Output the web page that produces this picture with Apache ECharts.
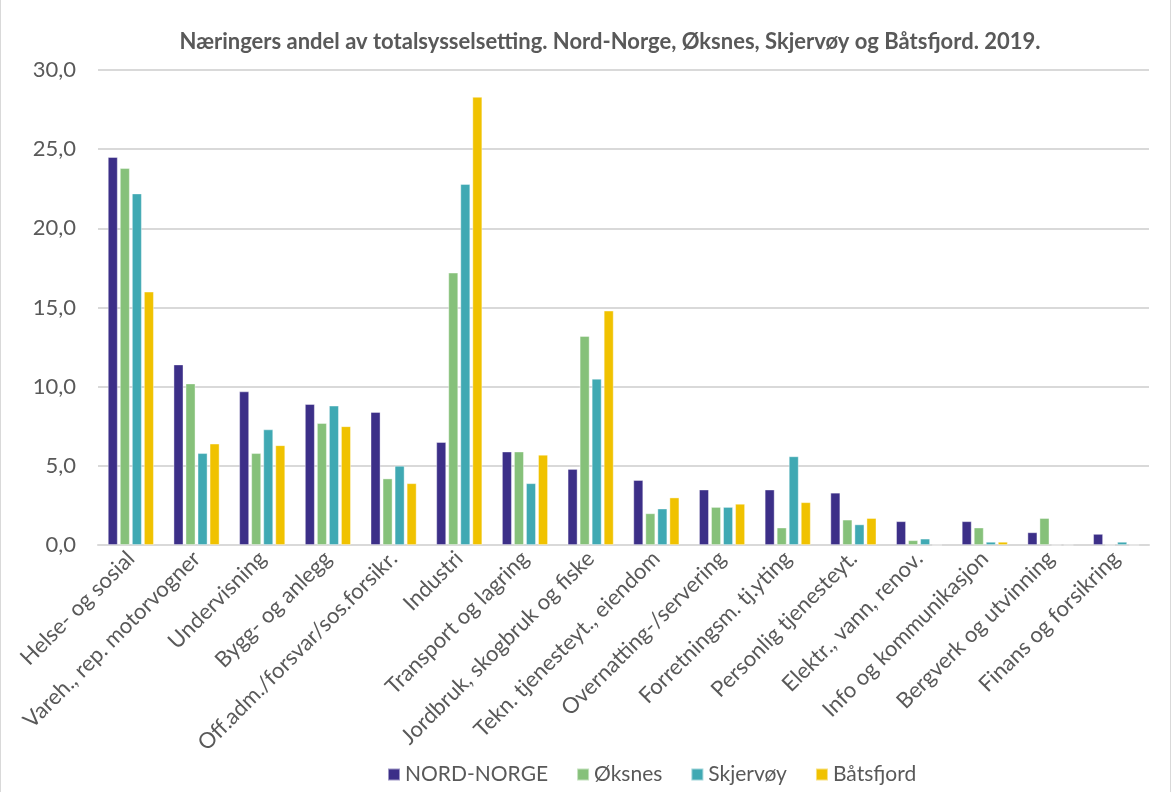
<!DOCTYPE html>
<html>
<head>
<meta charset="utf-8">
<script src="https://cdn.jsdelivr.net/npm/echarts@6/dist/echarts.min.js"></script>
<style>
  html, body { margin: 0; padding: 0; background: #fff; }
  #chart { width: 1171px; height: 792px; box-sizing: border-box; border-left: 1px solid #d9d9d9; border-right: 1px solid #d9d9d9; }
</style>
</head>
<body>
<div id="chart"></div>
<script>
const categories = [
  'Helse- og sosial', 'Vareh., rep. motorvogner', 'Undervisning', 'Bygg- og anlegg',
  'Off.adm./forsvar/sos.forsikr.', 'Industri', 'Transport og lagring', 'Jordbruk, skogbruk og fiske',
  'Tekn. tjenesteyt., eiendom', 'Overnatting-/servering', 'Forretningsm. tj.yting', 'Personlig tjenesteyt.',
  'Elektr., vann, renov.', 'Info og kommunikasjon', 'Bergverk og utvinning', 'Finans og forsikring'
]
const nordNorge = [24.5, 11.4, 9.7, 8.9, 8.4, 6.5, 5.9, 4.8, 4.1, 3.5, 3.5, 3.3, 1.5, 1.5, 0.8, 0.7]
const oksnes    = [23.8, 10.2, 5.8, 7.7, 4.2, 17.2, 5.9, 13.2, 2.0, 2.4, 1.1, 1.6, 0.3, 1.1, 1.7, 0]
const skjervoy  = [22.2, 5.8, 7.3, 8.8, 5.0, 22.8, 3.9, 10.5, 2.3, 2.4, 5.6, 1.3, 0.4, 0.2, 0, 0.2]
const batsfjord = [16.0, 6.4, 6.3, 7.5, 3.9, 28.3, 5.7, 14.8, 3.0, 2.6, 2.7, 1.7, 0, 0.2, 0, 0]
const yTicks = [0, 5, 10, 15, 20, 25, 30]

const seriesDefs = [
  { name: 'NORD-NORGE', data: nordNorge, color: '#3c2f88' },
  { name: 'Øksnes', data: oksnes, color: '#86c17a' },
  { name: 'Skjervøy', data: skjervoy, color: '#40a9b3' },
  { name: 'Båtsfjord', data: batsfjord, color: '#f0c200' }
]

const font = 'Lato, "Open Sans", sans-serif'
const chart = echarts.init(document.getElementById('chart'))
chart.setOption({
  animation: false,
  textStyle: { fontFamily: font },
  title: {
    text: 'Næringers andel av totalsysselsetting. Nord-Norge, Øksnes, Skjervøy og Båtsfjord. 2019.',
    left: 604, textAlign: 'center', top: 26,
    textStyle: { fontFamily: font, fontSize: 22, fontWeight: 'bold', color: '#595959' }
  },
  legend: {
    bottom: 2, left: 381,
    itemWidth: 12, itemHeight: 12, itemGap: 28, icon: 'rect',
    textStyle: { fontFamily: font, fontSize: 21, color: '#595959' },
    data: seriesDefs.map(s => s.name)
  },
  grid: { left: 97, right: 21, top: 70, bottom: 247, containLabel: false },
  xAxis: {
    type: 'category', data: categories,
    axisLine: { lineStyle: { color: '#d9d9d9', width: 2 } },
    axisTick: { show: false },
    axisLabel: { interval: 0, rotate: 45, fontSize: 22, color: '#595959', fontFamily: font, margin: 10 }
  },
  yAxis: {
    type: 'value', min: 0, max: 30, interval: 5,
    axisLine: { show: false }, axisTick: { show: false },
    splitLine: { lineStyle: { color: '#d9d9d9', width: 2 } },
    axisLabel: {
      fontSize: 22, color: '#595959', fontFamily: font, margin: 22,
      formatter: v => yTicks.includes(v) ? v.toFixed(1).replace('.', ',') : ''
    }
  },
  series: seriesDefs.map(s => ({
    name: s.name, type: 'bar', data: s.data,
    barGap: '22%', barCategoryGap: '30%',
    itemStyle: { color: s.color, borderColor: 'rgba(255,255,255,0.5)', borderWidth: 0.8 }
  }))
})
</script>
</body>
</html>
